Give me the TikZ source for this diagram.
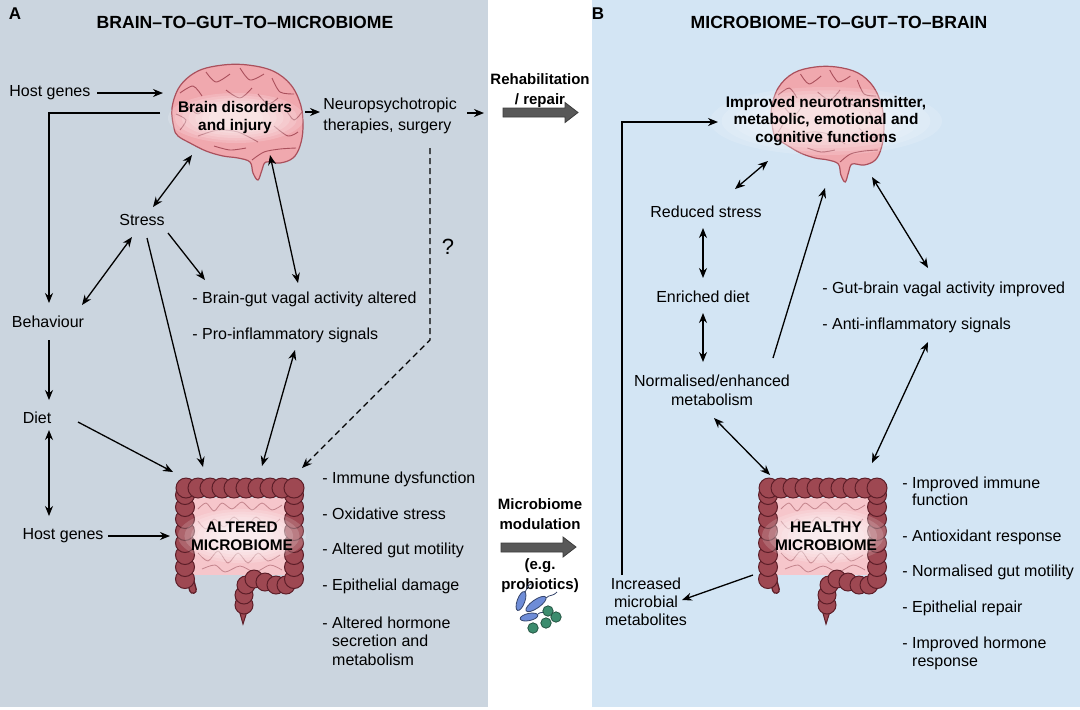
\documentclass[tikz,border=0pt]{standalone}
\usepackage{fontspec}
\setmainfont{Liberation Sans}
\usetikzlibrary{arrows.meta}
\definecolor{bgA}{RGB}{203,213,223}
\definecolor{bgB}{RGB}{211,229,244}
\definecolor{brainfill}{RGB}{240,168,174}
\definecolor{brainline}{RGB}{170,80,92}
\definecolor{colonfill}{RGB}{158,72,82}
\definecolor{colonline}{RGB}{92,30,40}
\definecolor{gutin}{RGB}{246,198,203}
\definecolor{arrowgray}{RGB}{88,88,88}
\definecolor{arrowdark}{RGB}{60,60,60}
\definecolor{rodblue}{RGB}{110,140,215}
\definecolor{cocgreen}{RGB}{60,140,110}
\tikzset{
  conn/.style={-{Stealth[length=5pt,width=4pt]}, line width=0.65pt},
  biconn/.style={{Stealth[length=5pt,width=4pt]}-{Stealth[length=5pt,width=4pt]}, line width=0.65pt},
  lbl/.style={font=\fontsize{8}{9.5}\selectfont, inner sep=0pt},
  blbl/.style={font=\fontsize{7.7}{9}\selectfont\bfseries, inner sep=0pt, align=center},
  mlbl/.style={font=\fontsize{7.5}{10}\selectfont\bfseries, inner sep=0pt, align=center},
  ttl/.style={font=\fontsize{8.8}{10}\selectfont\bfseries, inner sep=0pt},
  bigarrow/.style={fill=arrowgray, draw=arrowdark, line width=0.4pt},
  sulcus/.style={brainline, line width=0.45pt},
  brainpic/.pic={
    \fill[brainfill, draw=brainline, line width=0.6pt] plot[smooth cycle, tension=0.6] coordinates {
      (-64,10) (-66,-10) (-58,-32) (-40,-47) (-15,-53) (10,-53) (35,-47) (53,-33) (63,-12)
      (65,10) (62,28) (55,40) (42,45) (28,44) (24,52) (20,62) (15,55) (12,44) (0,40)
      (-15,38) (-32,33) (-48,25) (-60,18)};
    \draw[sulcus] plot[smooth] coordinates {(14,42) (26,34) (42,31) (58,30)};
    \draw[sulcus] plot[smooth] coordinates {(-40,18) (-20,12) (0,14) (20,24)};
    \draw[sulcus] plot[smooth] coordinates {(-58,-25) (-45,-32) (-36,-22)};
    \draw[sulcus] plot[smooth] coordinates {(-32,-46) (-22,-36) (-8,-44)};
    \draw[sulcus] plot[smooth] coordinates {(2,-50) (12,-38) (26,-44)};
    \draw[sulcus] plot[smooth] coordinates {(34,-40) (42,-26) (56,-24)};
    \draw[sulcus] plot[smooth] coordinates {(48,-8) (56,2) (64,-6)};
    \draw[sulcus] plot[smooth] coordinates {(36,8) (50,18) (60,14)};
    \draw[sulcus] plot[smooth] coordinates {(-62,-4) (-52,2) (-58,12)};
    \draw[sulcus] plot[smooth] coordinates {(-24,28) (-8,32) (8,30)};
    \draw[sulcus] plot[smooth] coordinates {(-12,-28) (2,-20) (14,-30)};
    \draw[sulcus] plot[smooth] coordinates {(20,-24) (30,-14) (40,-20)};
    \draw[sulcus] plot[smooth] coordinates {(-50,-12) (-40,-4) (-30,-14)};
  },
  colonpic/.pic={
    \fill[gutin] (-47,-37) rectangle (47,40);
    \draw[brainline!70, line width=0.4pt] plot[smooth] coordinates {(-42,-26) (-34,-32) (-26,-24) (-18,-32) (-8,-26) (2,-33) (12,-25) (22,-32) (32,-25) (42,-30)};
    \draw[brainline!70, line width=0.4pt] plot[smooth] coordinates {(-42,-14) (-34,-6) (-26,-16) (-16,-8) (-6,-18) (6,-8) (16,-18) (28,-8) (40,-16)};
    \draw[brainline!70, line width=0.4pt] plot[smooth] coordinates {(-42,18) (-32,26) (-22,16) (-12,28) (-2,18) (8,28) (18,18) (28,26) (40,20)};
    \draw[brainline!70, line width=0.4pt] plot[smooth] coordinates {(-38,34) (-25,30) (-15,37) (0,31) (15,37) (30,30) (42,35)};
    \draw[colonline, line width=4pt, line cap=round] (-50,44) -- (-47,55);
    \draw[colonfill, line width=2.6pt, line cap=round] (-50,44) -- (-47,55);
    \fill[colonfill, draw=colonline, line width=0.5pt] (-4,64) -- (3,89) -- (11,64) -- cycle;
    \foreach \y in {44,32,...,-40} {\filldraw[fill=colonfill, draw=colonline, line width=0.5pt] (-55,\y) circle[radius=9.5];}
    \foreach \p in {(4,70),(4,60),(6,50),(14,44),(25,47),(36,50),(46,50)} {\filldraw[fill=colonfill, draw=colonline, line width=0.5pt] \p circle[radius=9];}
    \foreach \y in {44,32,...,-40} {\filldraw[fill=colonfill, draw=colonline, line width=0.5pt] (54,\y) circle[radius=9.5];}
    \foreach \x in {-54,-42,...,54} {\filldraw[fill=colonfill, draw=colonline, line width=0.5pt] (\x,-47) circle[radius=10];}
  }
}
\begin{document}
\begin{tikzpicture}[x=0.5pt,y=-0.5pt]
\useasboundingbox (0,0) rectangle (1080,709);
\fill[white] (0,0) rectangle (1080,709);
\fill[bgA] (0,0) rectangle (488,707);
\fill[bgB] (592,0) rectangle (1080,707);

% ---------- Panel A ----------
\node[font=\fontsize{8.5}{10}\selectfont\bfseries, inner sep=0pt] (labA) at (15,14) {A};
\node[ttl] (titA) at (245,22) {BRAIN--TO--GUT--TO--MICROBIOME};

\pic at (238,118) {brainpic};
\foreach \s in {1,0.9,0.8,0.7,0.6,0.5,0.4} {\fill[white, opacity=0.16] (236,118) ellipse[x radius=\s*68, y radius=\s*25];}
\node[blbl] (brainA) at (235,118) {Brain disorders\\and injury};

\pic at (240,535) {colonpic};
\foreach \s in {1,0.9,0.8,0.7,0.6,0.5,0.4} {\fill[white, opacity=0.16] (242,536) ellipse[x radius=\s*64, y radius=\s*27];}
\node[blbl] (gutA) at (242,536) {ALTERED\\MICROBIOME};

\node[lbl, anchor=west] (hg1) at (9,93) {Host genes};
\node[lbl] (stress) at (142,220) {Stress};
\node[lbl] (behav) at (48,322) {Behaviour};
\node[lbl] (diet) at (37,418) {Diet};
\node[lbl] (hg2) at (63,536) {Host genes};
\node[lbl, anchor=west, align=left, font=\fontsize{8}{10.5}\selectfont] (neuro) at (323,115.5) {Neuropsychotropic\\therapies, surgery};
\node[lbl, font=\fontsize{11}{12}\selectfont] (qm) at (448,247) {?};
\node[lbl, anchor=west] (vagA) at (192,299) {- Brain-gut vagal activity altered};
\node[lbl, anchor=west] (infA) at (192,335) {- Pro-inflammatory signals};
\node[lbl, anchor=west] (la1) at (322,479) {- Immune dysfunction};
\node[lbl, anchor=west] (la2) at (322,514) {- Oxidative stress};
\node[lbl, anchor=west] (la3) at (322,550) {- Altered gut motility};
\node[lbl, anchor=west] (la4) at (322,586) {- Epithelial damage};
\node[lbl, anchor=west, align=left, font=\fontsize{8}{9.3}\selectfont] (la5) at (322,641) {- Altered hormone\\\hphantom{- }secretion and\\\hphantom{- }metabolism};

\coordinate (hg1e) at (97,93);
\coordinate (brA1) at (163,93);
\coordinate (brA2) at (160,113);
\coordinate (behT) at (49,303);
\coordinate (stN) at (153,207);
\coordinate (brSW) at (192,155);
\coordinate (stSE) at (168,233);
\coordinate (vagT) at (205,280);
\coordinate (stSW) at (132,237);
\coordinate (behNE) at (82,305);
\coordinate (stS) at (147,238);
\coordinate (gutAn1) at (203,467);
\coordinate (behS) at (49,340);
\coordinate (dietN) at (49,400);
\coordinate (dietE) at (78,422);
\coordinate (gutAnw) at (173,472);
\coordinate (dietS) at (49,430);
\coordinate (hg2N) at (49,516);
\coordinate (hg2e) at (108,536);
\coordinate (gutAw) at (170,536);
\coordinate (brS) at (270,155);
\coordinate (vagN) at (298,283);
\coordinate (infS) at (295,350);
\coordinate (gutAn2) at (262,466);
\coordinate (dash0) at (430,148);
\coordinate (dash1) at (430,340);
\coordinate (gutAne) at (302,468);
\coordinate (brE) at (305,112);
\coordinate (neuW) at (320,112);
\coordinate (neuE) at (467,113);
\coordinate (rehW) at (484,113);

\draw[conn] (hg1e) -- (brA1);
\draw[conn] (brA2) -| (behT);
\draw[biconn] (stN) -- (brSW);
\draw[conn] (stSE) -- (vagT);
\draw[biconn] (stSW) -- (behNE);
\draw[conn] (stS) -- (gutAn1);
\draw[conn] (behS) -- (dietN);
\draw[conn] (dietE) -- (gutAnw);
\draw[biconn] (dietS) -- (hg2N);
\draw[conn] (hg2e) -- (gutAw);
\draw[biconn] (brS) -- (vagN);
\draw[biconn] (infS) -- (gutAn2);
\draw[conn, dash pattern=on 3pt off 2pt] (dash0) -- (dash1) -- (gutAne);
\draw[conn] (brE) -- (neuW);
\draw[conn] (neuE) -- (rehW);

% ---------- Middle ----------
\node[mlbl] (rehab) at (540,90.5) {Rehabilitation\\/ repair};
\draw[bigarrow] (503,108) -- (565,108) -- (565,102.5) -- (578,112.5) -- (565,122.5) -- (565,117) -- (503,117) -- cycle;
\node[mlbl] (modul) at (540,514) {Microbiome\\modulation};
\draw[bigarrow] (501,543) -- (563,543) -- (563,537) -- (576,547) -- (563,557) -- (563,552) -- (501,552) -- cycle;
\node[mlbl] (probio) at (540,575.5) {(e.g.\\probiotics)};
% bacteria
\draw[rodblue!50!black, line width=0.4pt] (525,592) .. controls (528,588) and (526,586) .. (531,584);
\draw[rodblue!50!black, line width=0.4pt] (546,598) .. controls (550,594) and (552,597) .. (557,592);
\draw[rodblue!50!black, line width=0.4pt] (538,614) .. controls (541,611) and (543,614) .. (547,611);
\filldraw[fill=rodblue, draw=rodblue!50!black, line width=0.4pt, rotate around={70:(521,601)}] (521,601) ellipse[x radius=10, y radius=3.8];
\filldraw[fill=rodblue, draw=rodblue!50!black, line width=0.4pt, rotate around={35:(536,604)}] (536,604) ellipse[x radius=12, y radius=4.2];
\filldraw[fill=rodblue, draw=rodblue!50!black, line width=0.4pt, rotate around={12:(529,617)}] (529,617) ellipse[x radius=9, y radius=3.6];
\foreach \p in {(548,611),(556,617),(546,623),(533,628)} {\filldraw[fill=cocgreen, draw=cocgreen!60!black, line width=0.4pt] \p circle[radius=5.2];}

% ---------- Panel B ----------
\node[font=\fontsize{8.5}{10}\selectfont\bfseries, inner sep=0pt] (labB) at (598,14) {B};
\node[ttl] (titB) at (839,22) {MICROBIOME--TO--GUT--TO--BRAIN};

\pic[xscale=0.86] at (828,120) {brainpic};
\foreach \s in {1,0.9,0.8,0.7,0.6,0.5,0.4} {\fill[white, opacity=0.15] (826,121) ellipse[x radius=\s*116, y radius=\s*34];}
\node[blbl, font=\fontsize{7.7}{8.75}\selectfont\bfseries] (brainB) at (826,121) {Improved neurotransmitter,\\metabolic, emotional and\\cognitive functions};

\pic at (823,535) {colonpic};
\foreach \s in {1,0.9,0.8,0.7,0.6,0.5,0.4} {\fill[white, opacity=0.16] (826,536) ellipse[x radius=\s*64, y radius=\s*27];}
\node[blbl] (gutB) at (826,536) {HEALTHY\\MICROBIOME};

\node[lbl] (redst) at (706,212) {Reduced stress};
\node[lbl] (enr) at (703,297) {Enriched diet};
\node[lbl, align=center, font=\fontsize{8}{9.5}\selectfont] (norm) at (712,390.5) {Normalised/enhanced\\metabolism};
\node[lbl, align=center, font=\fontsize{8}{9}\selectfont] (incr) at (646,602) {Increased\\microbial\\metabolites};
\node[lbl, anchor=west] (vagB) at (822,289) {- Gut-brain vagal activity improved};
\node[lbl, anchor=west] (infB) at (822,325) {- Anti-inflammatory signals};
\node[lbl, anchor=west, align=left, font=\fontsize{8}{8.6}\selectfont] (lb1) at (902,491.5) {- Improved immune\\\hphantom{- }function};
\node[lbl, anchor=west] (lb2) at (902,537) {- Antioxidant response};
\node[lbl, anchor=west] (lb3) at (902,572) {- Normalised gut motility};
\node[lbl, anchor=west] (lb4) at (902,608) {- Epithelial repair};
\node[lbl, anchor=west, align=left, font=\fontsize{8}{9}\selectfont] (lb5) at (902,653) {- Improved hormone\\\hphantom{- }response};

\coordinate (mb0) at (622,575);
\coordinate (brBw) at (718,122);
\coordinate (rsNE) at (735,189);
\coordinate (brBsw) at (768,161);
\coordinate (rsS) at (703,228);
\coordinate (enN) at (703,278);
\coordinate (enS) at (703,313);
\coordinate (nmN) at (703,362);
\coordinate (nmNE) at (773,358);
\coordinate (brBs) at (825,188);
\coordinate (brBse) at (872,177);
\coordinate (vgBn) at (928,268);
\coordinate (ifBs) at (928,342);
\coordinate (gtBne) at (872,463);
\coordinate (nmS) at (714,418);
\coordinate (gtBnw) at (770,475);
\coordinate (gtBsw) at (753,575);
\coordinate (inE) at (682,600);

\draw[conn] (mb0) |- (brBw);
\draw[biconn] (rsNE) -- (brBsw);
\draw[biconn] (rsS) -- (enN);
\draw[biconn] (enS) -- (nmN);
\draw[conn] (nmNE) -- (brBs);
\draw[biconn] (brBse) -- (vgBn);
\draw[biconn] (ifBs) -- (gtBne);
\draw[biconn] (nmS) -- (gtBnw);
\draw[conn] (gtBsw) -- (inE);
\end{tikzpicture}
\end{document}
